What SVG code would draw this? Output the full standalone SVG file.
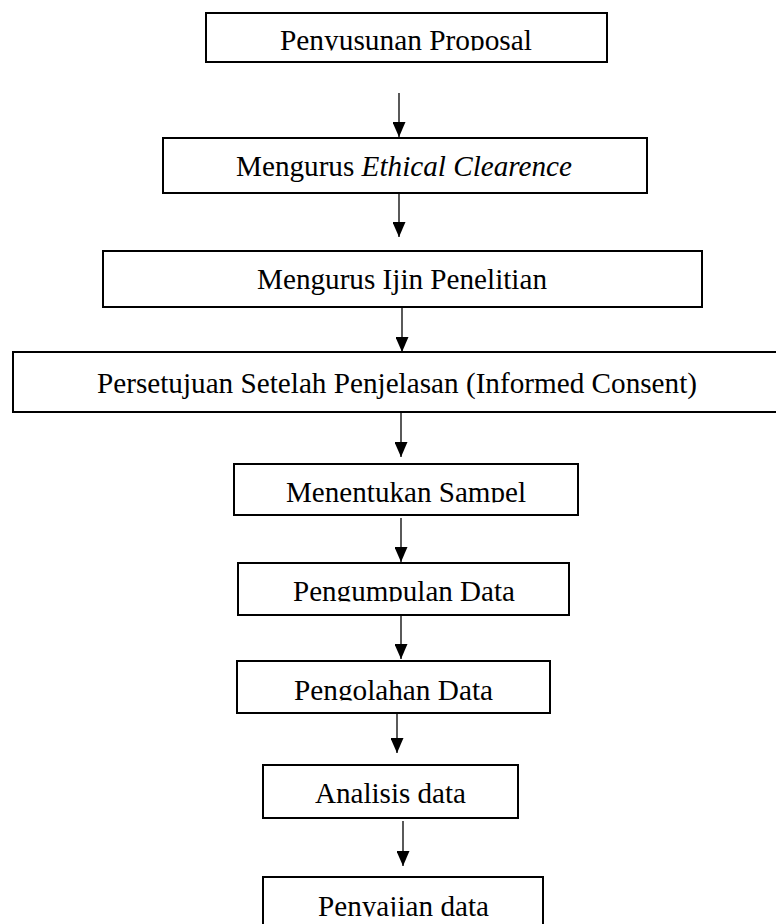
<svg xmlns="http://www.w3.org/2000/svg" width="776" height="924" viewBox="0 0 776 924">
<style>
.box{fill:#fff;stroke:#000;stroke-width:2}
.lbl{font-family:'Liberation Serif','Times New Roman',Times,serif;font-size:29px;fill:#000}
.conn{stroke:#000;stroke-width:1.3;fill:none}
</style>
<defs>
<marker id="ah" viewBox="0 0 15 13" refX="15" refY="6.5" markerWidth="15" markerHeight="13" markerUnits="userSpaceOnUse" orient="auto">
<path d="M0,0 L15,6.5 L0,13 z" fill="#000"/>
</marker>
<clipPath id="c1" clipPathUnits="userSpaceOnUse"><rect x="0" y="0" width="776" height="50.5"/></clipPath>
<clipPath id="c5" clipPathUnits="userSpaceOnUse"><rect x="0" y="440" width="776" height="62.5"/></clipPath>
<clipPath id="c6" clipPathUnits="userSpaceOnUse"><rect x="0" y="540" width="776" height="61.5"/></clipPath>
<clipPath id="c7" clipPathUnits="userSpaceOnUse"><rect x="0" y="640" width="776" height="60.5"/></clipPath>
<clipPath id="c9" clipPathUnits="userSpaceOnUse"><rect x="0" y="860" width="776" height="56.5"/></clipPath>
</defs>
<g id="connectors">
<line class="conn" x1="399" y1="93" x2="399" y2="137" marker-end="url(#ah)"/>
<line class="conn" x1="399" y1="193" x2="399" y2="237" marker-end="url(#ah)"/>
<line class="conn" x1="402" y1="307" x2="402" y2="352" marker-end="url(#ah)"/>
<line class="conn" x1="401" y1="412" x2="401" y2="457" marker-end="url(#ah)"/>
<line class="conn" x1="401" y1="518" x2="401" y2="562" marker-end="url(#ah)"/>
<line class="conn" x1="401" y1="615" x2="401" y2="659" marker-end="url(#ah)"/>
<line class="conn" x1="397" y1="708" x2="397" y2="753" marker-end="url(#ah)"/>
<line class="conn" x1="403" y1="821" x2="403" y2="866" marker-end="url(#ah)"/>
</g>
<g id="n1">
<rect class="box" x="206" y="13" width="401" height="49"/>
<text class="lbl" x="280" y="50" textLength="252" lengthAdjust="spacingAndGlyphs" clip-path="url(#c1)">Penyusunan Proposal</text>
</g>
<g id="n2">
<rect class="box" x="163" y="138" width="484" height="55"/>
<text class="lbl" x="236" y="176" textLength="336" lengthAdjust="spacingAndGlyphs">Mengurus <tspan font-style="italic">Ethical Clearence</tspan></text>
</g>
<g id="n3">
<rect class="box" x="103" y="251" width="599" height="56"/>
<text class="lbl" x="257" y="289" textLength="290" lengthAdjust="spacingAndGlyphs">Mengurus Ijin Penelitian</text>
</g>
<g id="n4">
<rect class="box" x="13" y="352" width="780" height="60"/>
<text class="lbl" x="97" y="393" textLength="600" lengthAdjust="spacingAndGlyphs">Persetujuan Setelah Penjelasan (Informed Consent)</text>
</g>
<g id="n5">
<rect class="box" x="234" y="464" width="344" height="51"/>
<text class="lbl" x="286" y="502" textLength="240" lengthAdjust="spacingAndGlyphs" clip-path="url(#c5)">Menentukan Sampel</text>
</g>
<g id="n6">
<rect class="box" x="238" y="563" width="331" height="52"/>
<text class="lbl" x="293" y="601" textLength="222" lengthAdjust="spacingAndGlyphs" clip-path="url(#c6)">Pengumpulan Data</text>
</g>
<g id="n7">
<rect class="box" x="237" y="661" width="313" height="52"/>
<text class="lbl" x="294" y="700" textLength="199" lengthAdjust="spacingAndGlyphs" clip-path="url(#c7)">Pengolahan Data</text>
</g>
<g id="n8">
<rect class="box" x="263" y="765" width="255" height="53"/>
<text class="lbl" x="315" y="803" textLength="151" lengthAdjust="spacingAndGlyphs">Analisis data</text>
</g>
<g id="n9">
<rect class="box" x="263" y="877" width="280" height="70"/>
<text class="lbl" x="318" y="916" textLength="171" lengthAdjust="spacingAndGlyphs" clip-path="url(#c9)">Penyajian data</text>
</g>
</svg>
